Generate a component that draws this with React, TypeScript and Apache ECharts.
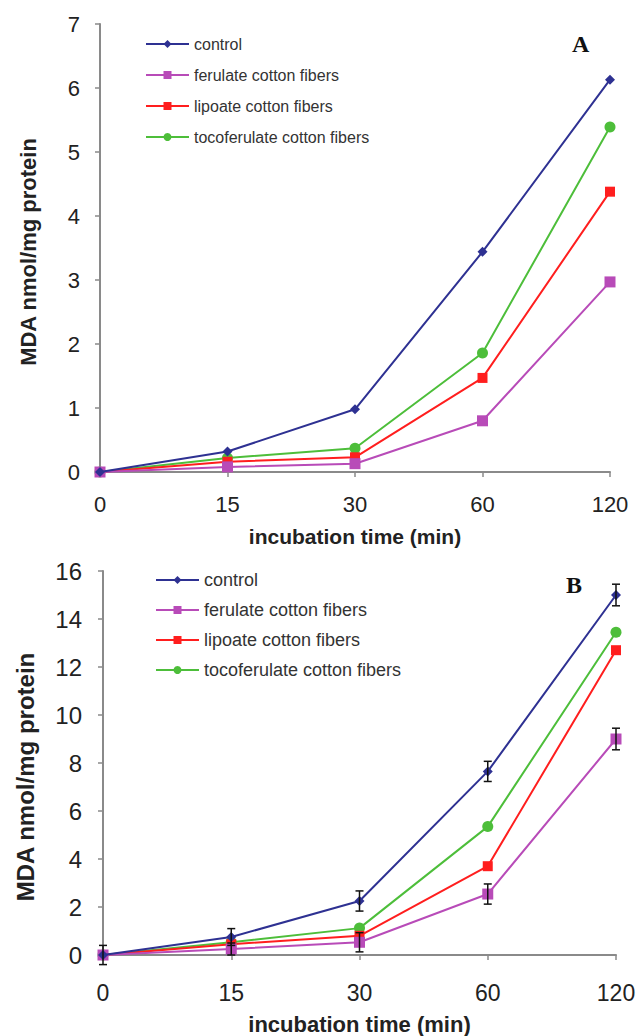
import React, { useEffect, useRef } from "react";
import * as echarts from "echarts";

const categories = ["0", "15", "30", "60", "120"];
const seriesNames = ["control", "ferulate cotton fibers", "lipoate cotton fibers", "tocoferulate cotton fibers"];

// Panel A
const aControl = [0, 0.32, 0.98, 3.44, 6.13];
const aFerulate = [0, 0.08, 0.13, 0.8, 2.97];
const aLipoate = [0, 0.16, 0.23, 1.47, 4.38];
const aToco = [0, 0.22, 0.37, 1.86, 5.39];

// Panel B
const bControl = [0, 0.75, 2.25, 7.65, 15.0];
const bFerulate = [0, 0.25, 0.53, 2.54, 9.0];
const bLipoate = [0, 0.45, 0.8, 3.7, 12.7];
const bToco = [0, 0.53, 1.12, 5.35, 13.45];
const bControlErr = [0.4, 0.35, 0.42, 0.42, 0.45];
const bFerulateErr = [0, 0.25, 0.4, 0.42, 0.45];

const colors = ["#2E3192", "#B84BB8", "#FF1E1E", "#4DBE3A"];
const symbols = ["diamond", "rect", "rect", "circle"];
const symbolSizes = [10, 11, 10, 11];

const FONT = "Liberation Sans, Arial, sans-serif";

export default function App() {
  const ref = useRef<HTMLDivElement>(null);
  useEffect(() => {
    const chart = echarts.init(ref.current!, null, { renderer: "svg" });
    const aData = [aControl, aFerulate, aLipoate, aToco];
    const bData = [bControl, bFerulate, bLipoate, bToco];

    const lineSeries = (data: number[][], gi: number) =>
      data.map((d, i) => ({
        name: seriesNames[i],
        type: "line",
        xAxisIndex: gi,
        yAxisIndex: gi,
        data: d,
        color: colors[i],
        symbol: symbols[i],
        symbolSize: symbolSizes[i],
        showAllSymbol: true,
        lineStyle: { width: 2, color: colors[i] },
        itemStyle: { color: colors[i] },
        z: 3 + (3 - i),
      }));

    const errSeries = (vals: number[], errs: number[]) => ({
      type: "custom",
      xAxisIndex: 1,
      yAxisIndex: 1,
      z: 10,
      data: vals.map((v, i) => [i, v - errs[i], v + errs[i]]).filter((_, i) => errs[i] > 0),
      renderItem: (params: any, api: any) => {
        const x = api.value(0);
        const lo = api.coord([x, api.value(1)]);
        const hi = api.coord([x, api.value(2)]);
        const w = 4;
        const st = { stroke: "#111", lineWidth: 1.5 };
        return {
          type: "group",
          children: [
            { type: "line", shape: { x1: lo[0], y1: lo[1], x2: hi[0], y2: hi[1] }, style: st },
            { type: "line", shape: { x1: lo[0] - w, y1: lo[1], x2: lo[0] + w, y2: lo[1] }, style: st },
            { type: "line", shape: { x1: hi[0] - w, y1: hi[1], x2: hi[0] + w, y2: hi[1] }, style: st },
          ],
        };
      },
    });

    const axisLine = { lineStyle: { color: "#8a8a8a", width: 2 } };
    const axisTick = { lineStyle: { color: "#8a8a8a", width: 1.5 }, length: 5 };

    const xAxis = (gi: number, fs: number, margin: number, nameFs: number, nameGap: number) => ({
      type: "category",
      gridIndex: gi,
      data: categories,
      boundaryGap: false,
      axisLine,
      axisTick: { ...axisTick, alignWithLabel: true },
      axisLabel: { fontFamily: FONT, fontSize: fs, color: "#222", margin },
      name: "incubation time (min)",
      nameLocation: "middle",
      nameGap,
      nameTextStyle: { fontFamily: FONT, fontSize: nameFs, fontWeight: "bold", color: "#222" },
      splitLine: { show: false },
    });

    const yAxis = (gi: number, max: number, interval: number, fs: number, margin: number) => ({
      type: "value",
      gridIndex: gi,
      min: 0,
      max,
      interval,
      axisLine: { show: true, ...axisLine },
      axisTick: { show: true, ...axisTick },
      axisLabel: { fontFamily: FONT, fontSize: fs, color: "#222", margin },
      splitLine: { show: false },
    });

    const legend = (left: number, top: number, gap: number, fs: number) => ({
      orient: "vertical",
      left,
      top,
      itemWidth: 43,
      itemHeight: 10,
      itemGap: gap,
      data: seriesNames,
      textStyle: { fontFamily: FONT, fontSize: fs, color: "#333" },
      selectedMode: false,
    });

    const yName = (x: number, y: number, fs: number) => ({
      type: "text",
      x,
      y,
      rotation: Math.PI / 2,
      style: {
        text: "MDA nmol/mg protein",
        font: `bold ${fs}px ${FONT}`,
        fill: "#222",
        textAlign: "center",
        textVerticalAlign: "middle",
      },
    });

    chart.setOption({
      animation: false,
      backgroundColor: "#fff",
      grid: [
        { left: 100, top: 24, width: 510, height: 448 },
        { left: 103, top: 571, width: 513, height: 385 },
      ],
      xAxis: [xAxis(0, 22, 21, 21, 54), xAxis(1, 23, 26, 22, 58)],
      yAxis: [yAxis(0, 7, 1, 22, 20), yAxis(1, 16, 2, 24, 21)],
      legend: [legend(140, 31, 15, 16), legend(150, 566, 12, 18)],
      series: [
        ...lineSeries(aData, 0),
        ...lineSeries(bData, 1),
        errSeries(bControl, bControlErr),
        errSeries(bFerulate, bFerulateErr),
      ],
      graphic: [
        yName(28, 252, 22),
        yName(25, 777, 24),
        { type: "text", left: 572, top: 32, style: { text: "A", font: "bold 24px 'Liberation Serif', 'DejaVu Serif', serif", fill: "#111" } },
        { type: "text", left: 566, top: 573, style: { text: "B", font: "bold 24px 'Liberation Serif', 'DejaVu Serif', serif", fill: "#111" } },
      ],
    });
    return () => chart.dispose();
  }, []);
  return <div ref={ref} style={{ position: "absolute", left: 0, top: 0, width: 639, height: 1036 }} />;
}
